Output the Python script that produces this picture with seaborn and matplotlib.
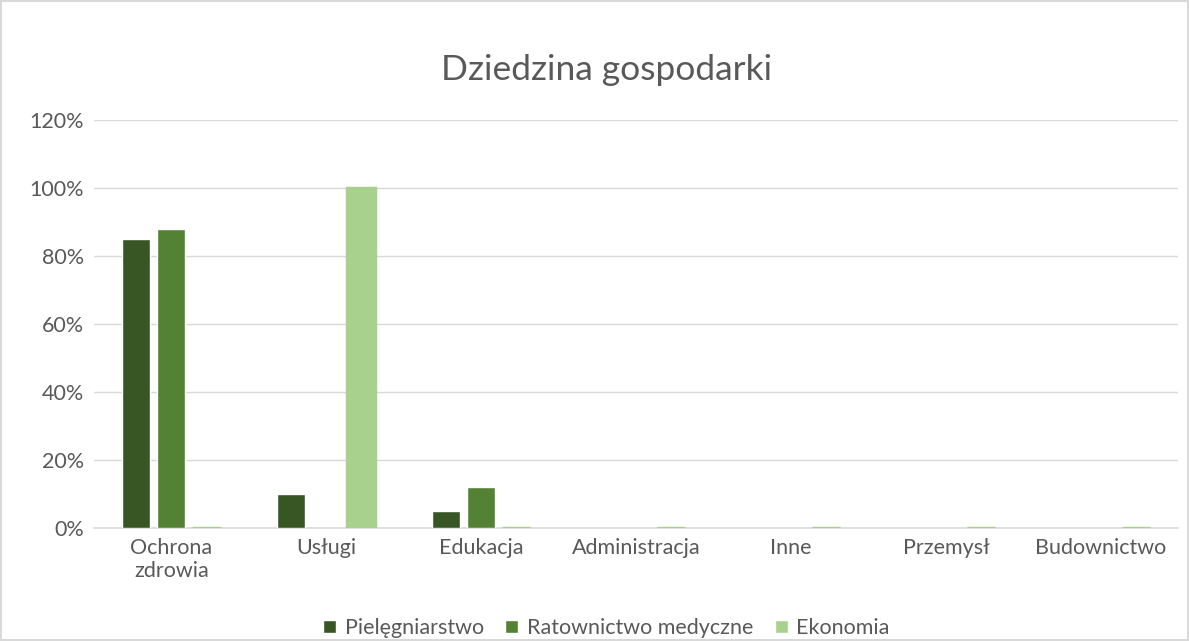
import numpy as np
import pandas as pd
import seaborn as sns
import matplotlib.pyplot as plt
from matplotlib.ticker import PercentFormatter

# ---------- data ----------
categories = ["Ochrona\nzdrowia", "Usługi", "Edukacja", "Administracja", "Inne", "Przemysł", "Budownictwo"]
series = ["Pielęgniarstwo", "Ratownictwo medyczne", "Ekonomia"]
pielegniarstwo = [0.85, 0.10, 0.05, np.nan, np.nan, np.nan, np.nan]
ratownictwo = [0.88, np.nan, 0.12, np.nan, np.nan, np.nan, np.nan]
ekonomia = [0.0, 1.00, 0.0, 0.0, 0.0, 0.0, 0.0]
colors = ["#375623", "#548235", "#a9d18e"]

df = pd.DataFrame({
    "Dziedzina": categories * 3,
    "Kierunek": [s for s in series for _ in categories],
    "Udział": pielegniarstwo + ratownictwo + ekonomia,
})

sns.set_theme(style="white")
plt.rcParams["font.family"] = ["Lato", "DejaVu Sans"]

fig = plt.figure(figsize=(11.89, 6.41), dpi=100)
fig.patch.set_edgecolor("#d9d9d9")
fig.patch.set_linewidth(1.5)
ax = fig.add_axes([0.079, 0.176, 0.912, 0.637])

sns.barplot(data=df, x="Dziedzina", y="Udział", hue="Kierunek",
            hue_order=series, order=categories, palette=colors,
            saturation=1, width=0.68, gap=0.2, ax=ax, legend=True)

# bars above the axis line; Excel draws zero values of the last series as a thin line
for cont in ax.containers:
    for p in cont:
        p.set_zorder(3)
for p in ax.containers[2]:
    p.set_edgecolor(colors[2])
    p.set_alpha(None)
    p.set_linewidth(2.5)

ax.set_ylim(0, 1.2)
ax.set_yticks(np.arange(0, 1.21, 0.2))
ax.yaxis.set_major_formatter(PercentFormatter(1.0, decimals=0))
ax.grid(axis="y", color="#d9d9d9", linewidth=1)
ax.set_axisbelow(True)
for s in ["top", "right", "left"]:
    ax.spines[s].set_visible(False)
ax.spines["bottom"].set_color("#d9d9d9")
ax.spines["bottom"].set_linewidth(1.2)
ax.tick_params(axis="both", length=0, labelsize=15.5, colors="#595959", pad=7)
ax.set_xlabel("")
ax.set_ylabel("")

fig.suptitle("Dziedzina gospodarki", x=0.51, y=0.915, fontsize=25.5, color="#595959")

handles, labels = ax.get_legend_handles_labels()
ax.get_legend().remove()
fig.legend(handles, labels, loc="center", bbox_to_anchor=(0.51, 0.02), ncol=3, frameon=False,
           fontsize=15.5, labelcolor="#595959", handlelength=0.6, handleheight=0.6,
           handletextpad=0.4, columnspacing=1.0)

plt.savefig("out.png", dpi=100)
